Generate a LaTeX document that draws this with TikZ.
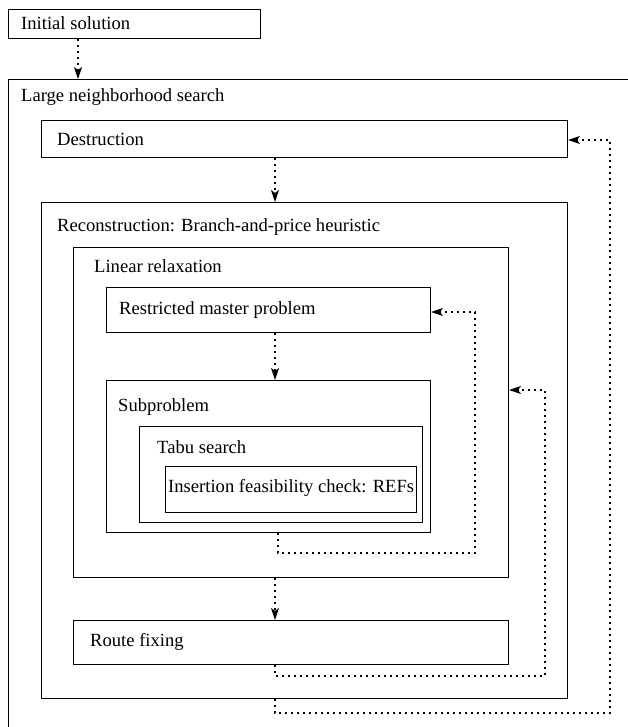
\documentclass[tikz,border=0pt]{standalone}
\usepackage{fontspec}
\setmainfont{Liberation Serif}
\usetikzlibrary{arrows.meta}
\tikzset{
  box/.style={draw, line width=1bp, rectangle, inner sep=0pt, anchor=north west},
  lbl/.style={anchor=west, inner sep=0pt, font=\fontsize{18.6bp}{22bp}\selectfont},
  arr/.style={line width=1.2bp, dash pattern=on 2bp off 4bp, -{Stealth[length=12bp,width=8bp,inset=3bp]}},
}
\newcommand{\mybox}[5]{\node[box, minimum width=#4bp-#2bp, minimum height=#5bp-#3bp] (#1) at (#2,#3) {};}
\begin{document}
\begin{tikzpicture}[x=1bp,y=-1bp]
\useasboundingbox (0,0) rectangle (628,727);
\clip (0,0) rectangle (628,727);
% boxes
\mybox{init}{8}{9}{260}{38}
\mybox{lns}{8}{79}{660}{760}
\mybox{dest}{41}{120}{567}{157}
\mybox{recon}{41}{202}{567}{698}
\mybox{lin}{73}{247}{508}{577}
\mybox{rmp}{106}{287}{430}{332}
\mybox{sub}{106}{380}{430}{532}
\mybox{tabu}{139}{426}{422}{522}
\mybox{ins}{165}{466}{416}{512}
\mybox{route}{73}{620}{508}{664}
% labels
\node[lbl] (tinit) at (21,23) {Initial solution};
\node[lbl] (tlns) at (21,97) {Large neighborhood search};
\node[lbl] (tdest) at (57,139) {Destruction};
\node[lbl] (trecon) at (57,227) {Reconstruction: Branch-and-price heuristic};
\node[lbl] (tlin) at (94,266) {Linear relaxation};
\node[lbl] (trmp) at (119,310) {Restricted master problem};
\node[lbl] (tsub) at (118,407) {Subproblem};
\node[lbl] (ttabu) at (157,447) {Tabu search};
\node[lbl] (tins) at (168,488) {Insertion feasibility check: REFs};
\node[lbl] (troute) at (90,642) {Route fixing};
% connector coordinates
\coordinate (xa) at (78,0);
\coordinate (xb) at (275,0);
\coordinate (s1) at (278,553);
\coordinate (s2) at (475,312);
\coordinate (r1) at (275,676);
\coordinate (r2) at (545,390);
\coordinate (o1) at (275,713);
\coordinate (o2) at (610,140);
% connectors
\draw[arr] (xa |- init.south) -- (xa |- lns.north);
\draw[arr] (xb |- dest.south) -- (xb |- recon.north);
\draw[arr] (xb |- rmp.south) -- (xb |- sub.north);
\draw[arr] (xb |- lin.south) -- (xb |- route.north);
\draw[arr] (s1 |- sub.south) -- (s1) -| (s2) -- (rmp.east |- s2);
\draw[arr] (r1 |- route.south) -- (r1) -| (r2) -- (lin.east |- r2);
\draw[arr] (o1 |- recon.south) -- (o1) -| (o2) -- (dest.east |- o2);
\end{tikzpicture}
\end{document}
